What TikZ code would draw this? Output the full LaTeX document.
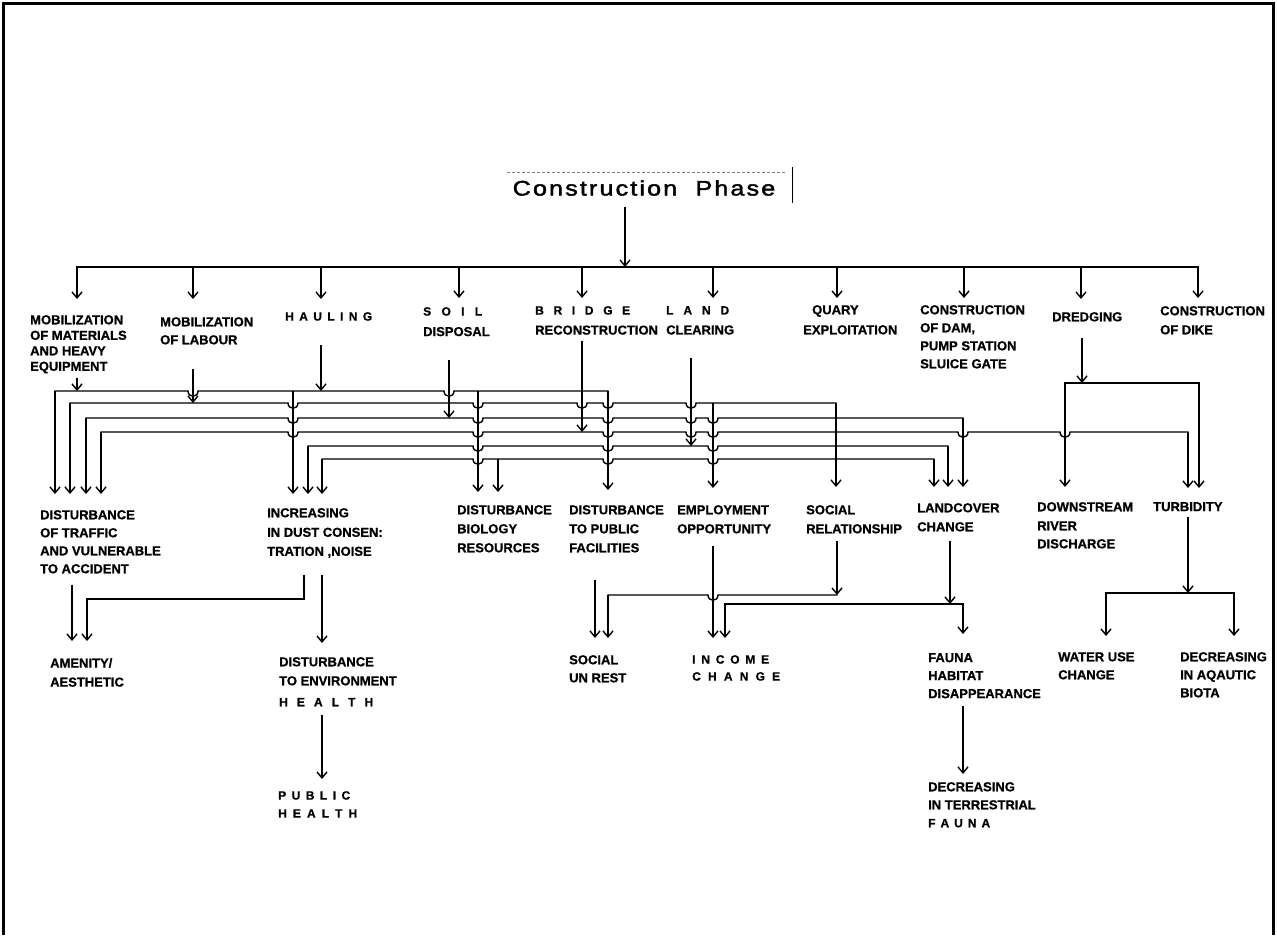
\documentclass[tikz,border=0pt]{standalone}
\usepackage{fontspec}
\setmainfont{Liberation Sans}[BoldFeatures={FakeBold=0.9}]
\newfontfamily\titlefont[LetterSpace=10,FakeStretch=1.2,FakeBold=2]{Liberation Sans}
\usetikzlibrary{arrows.meta,calc}

% letters spread evenly over a given width
\newcommand\spreadword[2]{{\fontsize{12}{18}\selectfont\makebox[#1pt][s]{#2}}}

\tikzset{
  ln/.style={line width=1.4pt, line cap=rect, line join=miter},
  arr/.style={line width=1.4pt, -{Straight Barb[length=6pt,width=10pt]}},
  tipgap/.style={shorten >=#1pt},
  lab/.style={anchor=north west, inner sep=0pt, align=left,
              font=\fontsize{13}{18}\selectfont\bfseries},
}

\begin{document}
\begin{tikzpicture}[x=1pt,y=-1pt]
\useasboundingbox (0,0) rectangle (1277,935);
\fill[white] (0,0) rectangle (1277,935);
\draw[line width=3pt] (3,935) -- (3,3) -- (1273,3) -- (1273,935);

% ---------------- title ----------------
\draw[gray, line width=0.7pt, dash pattern=on 3pt off 2pt] (507,172) -- (785,172);
\draw[line width=1pt] (792,167) -- (792,203);
\node[inner sep=0pt, font=\titlefont\fontsize{21}{21}\selectfont] (title) at (644,188) {Construction~~Phase};

% ---------------- activities ----------------
\node[lab, font=\fontsize{13}{15.5}\selectfont\bfseries] (m1) at (30,315) {MOBILIZATION\\OF MATERIALS\\AND HEAVY\\EQUIPMENT};
\node[lab] (m2) at (160,317) {MOBILIZATION\\OF LABOUR};
\node[lab] (ha) at (285,312) {\spreadword{87}{H A U L I N G}};
\node[lab] (so) at (423,307) {\spreadword{59}{S O I L}\\[2.5pt]DISPOSAL};
\node[lab] (br) at (535,306) {\spreadword{95}{B R I D G E}\\[2pt]RECONSTRUCTION};
\node[lab] (lc) at (666,306) {\spreadword{63}{L A N D}\\[2pt]CLEARING};
\node[lab] (qu) at (803,305) {\hspace*{9pt}QUARY\\[2pt]EXPLOITATION};
\node[lab] (dam) at (920,305) {CONSTRUCTION\\OF DAM,\\PUMP STATION\\SLUICE GATE};
\node[lab] (dr) at (1052,312) {DREDGING};
\node[lab] (dk) at (1160,306) {CONSTRUCTION\\[1pt]OF DIKE};

% ---------------- first impacts ----------------
\node[lab] (e1) at (40,510) {DISTURBANCE\\OF TRAFFIC\\AND VULNERABLE\\TO ACCIDENT};
\node[lab] (e2) at (267,508) {INCREASING\\[1.5pt]IN DUST CONSEN:\\[1pt]TRATION ,NOISE};
\node[lab] (e3) at (457,505) {DISTURBANCE\\[1pt]BIOLOGY\\[1pt]RESOURCES};
\node[lab] (e4) at (569,505) {DISTURBANCE\\[1pt]TO PUBLIC\\[1pt]FACILITIES};
\node[lab] (e5) at (677,505) {EMPLOYMENT\\[1pt]OPPORTUNITY};
\node[lab] (e6) at (806,505) {SOCIAL\\[1pt]RELATIONSHIP};
\node[lab] (e7) at (917,503) {LANDCOVER\\[1pt]CHANGE};
\node[lab] (e8) at (1037,502) {DOWNSTREAM\\[1pt]RIVER\\DISCHARGE};
\node[lab] (e9) at (1153,502) {TURBIDITY};

% ---------------- further impacts ----------------
\node[lab] (am) at (50,658) {AMENITY/\\[1pt]AESTHETIC};
\node[lab] (env) at (279,657) {DISTURBANCE\\[1pt]TO ENVIRONMENT\\[3pt]\spreadword{94}{H E A L T H}};
\node[lab] (ph) at (278,791) {\spreadword{72}{P U B L I C}\\\spreadword{79}{H E A L T H}};
\node[lab] (ur) at (569,655) {SOCIAL\\UN REST};
\node[lab] (inc) at (692,655) {\spreadword{77}{I N C O M E}\\[-1pt]\spreadword{88}{C H A N G E}};
\node[lab] (fa) at (928,653) {FAUNA\\HABITAT\\DISAPPEARANCE};
\node[lab] (dt) at (928,782) {DECREASING\\IN TERRESTRIAL\\\spreadword{62}{F A U N A}};
\node[lab] (wu) at (1058,652) {WATER USE\\CHANGE};
\node[lab] (da) at (1180,652) {DECREASING\\IN AQAUTIC\\BIOTA};

% ---------------- top distribution bus ----------------
\foreach \n/\x in {1/77,2/193,3/321,4/459,5/582,6/713,7/837,8/964,9/1081,10/1198}
  \coordinate (d\n) at (\x,267);
\coordinate (t0) at (625,267);
\draw[arr, shorten <=11pt] (t0 |- title.south) -- (t0);
\draw[ln] (d1) -- (d10);
\draw[arr, tipgap=16] (d1) -- (d1 |- m1.north);
\draw[arr, tipgap=18] (d2) -- (d2 |- m2.north);
\draw[arr, tipgap=13] (d3) -- (d3 |- ha.north);
\draw[arr, tipgap=9]  (d4) -- (d4 |- so.north);
\draw[arr, tipgap=8]  (d5) -- (d5 |- br.north);
\draw[arr, tipgap=8]  (d6) -- (d6 |- lc.north);
\draw[arr, tipgap=7]  (d7) -- (d7 |- qu.north);
\draw[arr, tipgap=7]  (d8) -- (d8 |- dam.north);
\draw[arr, tipgap=13] (d9) -- (d9 |- dr.north);
\draw[arr, tipgap=8]  (d10) -- (d10 |- dk.north);

% ---------------- impact buses ----------------
\coordinate (c1w) at (55,391);  \coordinate (c1e) at (608,391);
\coordinate (c2w) at (70,403);  \coordinate (c2e) at (836,403);
\coordinate (c3w) at (86,418);  \coordinate (c3e) at (963,418);
\coordinate (c4w) at (101,432); \coordinate (c4e) at (1188,432);
\coordinate (c5w) at (308,446); \coordinate (c5e) at (948,446);
\coordinate (c6w) at (322,459); \coordinate (c6e) at (934,459);
\coordinate (j1a) at (293,391); \coordinate (j1b) at (478,391);
\coordinate (j2) at (713,403);  \coordinate (j6) at (498,459);
\coordinate (dr1) at (1065,383); \coordinate (dr2) at (1199,383);

% activity feeds onto the buses
\coordinate (s1) at (77,391);  \coordinate (s2) at (193,403);
\coordinate (s3) at (321,391); \coordinate (s4) at (449,418);
\coordinate (s5) at (582,432); \coordinate (s6) at (691,446);
\coordinate (s7) at (1082,383);
\draw[arr, shorten <=4pt]  (s1 |- m1.south) -- (s1);
\draw[arr, shorten <=24pt] (s2 |- m2.south) -- (s2);
\draw[arr, shorten <=24pt] (s3 |- ha.south) -- (s3);
\draw[arr, shorten <=24pt] (s4 |- so.south) -- (s4);
\draw[arr, shorten <=6pt]  (s5 |- br.south) -- (s5);
\draw[arr, shorten <=23pt] (s6 |- lc.south) -- (s6);
\draw[arr, shorten <=16pt] (s7 |- dr.south) -- (s7);

% horizontal buses, hopping over crossing lines
\draw[ln] (c1w) \foreach \h in {193,449}
  { -- (\h-5,391) .. controls (\h-5,398) and (\h+5,398) .. (\h+5,391)} -- (c1e);
\draw[ln] (c2w) \foreach \h in {293,478,582,608,691}
  { -- (\h-5,403) .. controls (\h-5,410) and (\h+5,410) .. (\h+5,403)} -- (c2e);
\draw[ln] (c3w) \foreach \h in {293,478,608,691,713}
  { -- (\h-5,418) .. controls (\h-5,425) and (\h+5,425) .. (\h+5,418)} -- (c3e);
\draw[ln] (c4w) \foreach \h in {293,478,608,691,713,963,1065}
  { -- (\h-5,432) .. controls (\h-5,439) and (\h+5,439) .. (\h+5,432)} -- (c4e);
\draw[ln] (c5w) \foreach \h in {478,608,713}
  { -- (\h-5,446) .. controls (\h-5,453) and (\h+5,453) .. (\h+5,446)} -- (c5e);
\draw[ln] (c6w) \foreach \h in {478,608,713}
  { -- (\h-5,459) .. controls (\h-5,466) and (\h+5,466) .. (\h+5,459)} -- (c6e);
\draw[ln] (dr1) -- (dr2);

% drops into the first impacts
\draw[arr, tipgap=16] (c1w) -- (c1w |- e1.north);
\draw[arr, tipgap=16] (c2w) -- (c2w |- e1.north);
\draw[arr, tipgap=16] (c3w) -- (c3w |- e1.north);
\draw[arr, tipgap=16] (c4w) -- (c4w |- e1.north);
\draw[arr, tipgap=14] (j1a) -- (j1a |- e2.north);
\draw[arr, tipgap=14] (c5w) -- (c5w |- e2.north);
\draw[arr, tipgap=14] (c6w) -- (c6w |- e2.north);
\draw[arr, tipgap=13] (j1b) -- (j1b |- e3.north);
\draw[arr, tipgap=13] (j6) -- (j6 |- e3.north);
\draw[arr, tipgap=15] (c1e) -- (c1e |- e4.north);
\draw[arr, tipgap=17] (j2) -- (j2 |- e5.north);
\draw[arr, tipgap=18] (c2e) -- (c2e |- e6.north);
\draw[arr, tipgap=16] (c6e) -- (c6e |- e7.north);
\draw[arr, tipgap=16] (c5e) -- (c5e |- e7.north);
\draw[arr, tipgap=16] (c3e) -- (c3e |- e7.north);
\draw[arr, tipgap=15] (dr1) -- (dr1 |- e8.north);
\draw[arr, tipgap=14] (c4e) -- (c4e |- e9.north);
\draw[arr, tipgap=14] (dr2) -- (dr2 |- e9.north);

% ---------------- secondary links ----------------
\coordinate (k1) at (72,600);
\coordinate (k2a) at (304,599); \coordinate (k2b) at (87,599);
\coordinate (k3) at (322,600);
\draw[arr, shorten <=11pt, tipgap=17] (k1 |- e1.south) -- (k1 |- am.north);
\draw[arr, shorten <=17pt, tipgap=17] (k2a |- e2.south) -- (k2a) -- (k2b) -- (k2b |- am.north);
\draw[arr, shorten <=17pt, tipgap=14] (k3 |- e2.south) -- (k3 |- env.north);
\draw[arr, shorten <=9pt, tipgap=12] (k3 |- env.south) -- (k3 |- ph.north);

\coordinate (k4) at (595,600);
\coordinate (u1) at (608,595); \coordinate (u2) at (837,595);
\draw[arr, shorten <=27pt, tipgap=17] (k4 |- e4.south) -- (k4 |- ur.north);
\draw[arr, shorten <=7pt] (u2 |- e6.south) -- (u2);
\draw[ln] (u2) -- (718,595) .. controls (718,602) and (708,602) .. (708,595) -- (u1);
\draw[arr, tipgap=17] (u1) -- (u1 |- ur.north);

\coordinate (k5) at (713,600);
\coordinate (v1) at (725,604); \coordinate (v2) at (963,604); \coordinate (v3) at (950,604);
\draw[arr, shorten <=12pt, tipgap=17] (k5 |- e5.south) -- (k5 |- inc.north);
\draw[arr, shorten <=9pt] (v3 |- e7.south) -- (v3);
\draw[ln] (v1) -- (v2);
\draw[arr, tipgap=17] (v1) -- (v1 |- inc.north);
\draw[arr, tipgap=19] (v2) -- (v2 |- fa.north);
\draw[arr, shorten <=8pt, tipgap=8] (v2 |- fa.south) -- (v2 |- dt.north);

\coordinate (w0) at (1188,593); \coordinate (w1) at (1106,593); \coordinate (w2) at (1234,593);
\draw[arr, shorten <=6pt] (w0 |- e9.south) -- (w0);
\draw[ln] (w1) -- (w2);
\draw[arr, tipgap=16] (w1) -- (w1 |- wu.north);
\draw[arr, tipgap=16] (w2) -- (w2 |- da.north);
\end{tikzpicture}
\end{document}
